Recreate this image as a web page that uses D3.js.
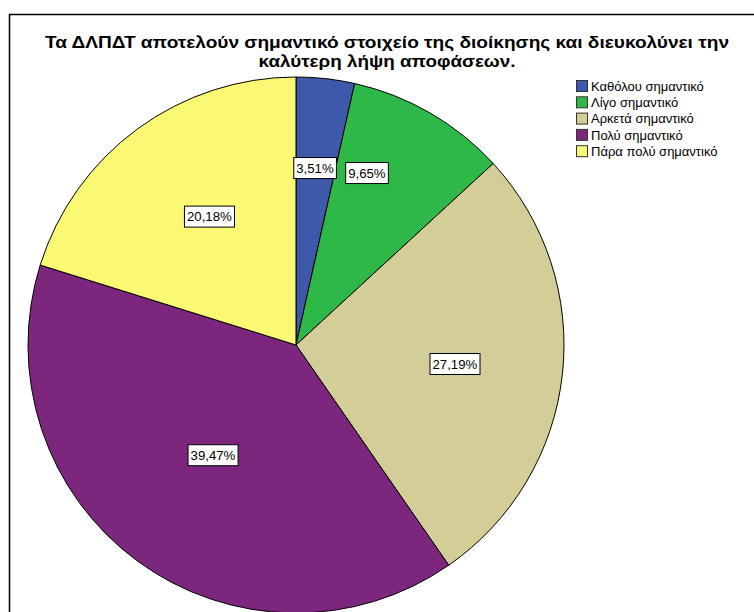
<!DOCTYPE html>
<html>
<head>
<meta charset="utf-8">
<script src="https://cdn.jsdelivr.net/npm/d3@7"></script>
<style>
  html, body { margin: 0; padding: 0; background: #fff; }
  svg { display: block; }
</style>
</head>
<body>
<svg id="chart" width="754" height="612"></svg>
<script>
// Response categories (clockwise from 12 o'clock) and their shares in percent
const categories = [
  "Καθόλου σημαντικό",
  "Λίγο σημαντικό",
  "Αρκετά σημαντικό",
  "Πολύ σημαντικό",
  "Πάρα πολύ σημαντικό"
];
const percents = [3.51, 9.65, 27.19, 39.47, 20.18];
const colors = ["#3E58AC", "#2EB848", "#D3CE97", "#7C277D", "#FBF873"];
const titleLines = [
  "Τα ΔΛΠΔΤ αποτελούν σημαντικό στοιχείο της διοίκησης και διευκολύνει την",
  "καλύτερη λήψη αποφάσεων."
];

// Label placement: fraction of the radius and angular nudge (degrees) from slice mid
const labelLayout = [
  { k: 0.664, shift: -0.2 },
  { k: 0.694, shift: -7.6 },
  { k: 0.597, shift: 0.5 },
  { k: 0.515, shift: 0.7 },
  { k: 0.578, shift: 2.3 }
];

const svg = d3.select("#chart");
const font = "'Liberation Sans', Arial, sans-serif";

// Outer frame
svg.append("rect")
  .attr("x", 9.5).attr("y", 14.5)
  .attr("width", 800).attr("height", 700)
  .attr("fill", "none").attr("stroke", "#000").attr("stroke-width", 1.5);

// Title: two centred lines, widened to the chart's title width
const titleWidths = [684, 257];
const title = svg.append("g").attr("font-family", font)
  .attr("font-weight", "bold").attr("font-size", 16.5).attr("fill", "#000")
  .attr("text-anchor", "middle");
titleLines.forEach((t, i) => {
  title.append("text").attr("x", 387).attr("y", 48 + i * 19)
    .attr("textLength", titleWidths[i]).attr("lengthAdjust", "spacingAndGlyphs")
    .text(t);
});

// Pie
const cx = 296, cy = 345, R = 268;
const pie = d3.pie().sort(null).value(d => d)(percents);
const arc = d3.arc().innerRadius(0).outerRadius(R);
const g = svg.append("g").attr("transform", `translate(${cx},${cy})`);

g.selectAll("path.slice").data(pie).join("path")
  .attr("class", "slice")
  .attr("d", arc)
  .attr("fill", (d, i) => colors[i])
  .attr("stroke", "#000").attr("stroke-width", 1);

// Percentage labels in boxed tags
const fmt = v => d3.format(".2f")(v).replace(".", ",") + "%";
const labels = g.selectAll("g.lbl").data(pie).join("g").attr("class", "lbl")
  .attr("transform", (d, i) => {
    const mid = (d.startAngle + d.endAngle) / 2 + labelLayout[i].shift * Math.PI / 180;
    const r = R * labelLayout[i].k;
    return `translate(${r * Math.sin(mid)},${-r * Math.cos(mid)})`;
  });
labels.each(function(d) {
  const sel = d3.select(this);
  const txt = sel.append("text")
    .attr("font-family", font).attr("font-size", 13.2).attr("fill", "#000")
    .attr("text-anchor", "middle").attr("dy", "0.36em")
    .text(fmt(d.data));
  const bb = txt.node().getBBox();
  sel.insert("rect", "text")
    .attr("x", bb.x - 2.5).attr("y", -10.5)
    .attr("width", bb.width + 5).attr("height", 21)
    .attr("fill", "#fff").attr("stroke", "#000").attr("stroke-width", 1);
});

// Legend
const legend = svg.append("g").attr("transform", "translate(576,80)");
const rows = legend.selectAll("g").data(categories).join("g")
  .attr("transform", (d, i) => `translate(0,${i * 16.3})`);
rows.append("rect")
  .attr("x", 0.5).attr("y", 0.5).attr("width", 11).attr("height", 11)
  .attr("fill", (d, i) => colors[i]).attr("stroke", "#333").attr("stroke-width", 1);
rows.append("text")
  .attr("x", 15).attr("y", 6).attr("dy", "0.36em")
  .attr("font-family", font).attr("font-size", 13).attr("fill", "#000")
  .text(d => d);
</script>
</body>
</html>
